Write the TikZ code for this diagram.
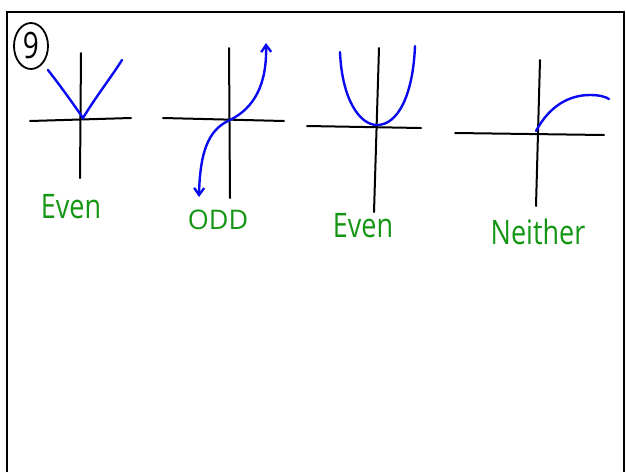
\documentclass[tikz,border=0pt]{standalone}
\usepackage{fontspec}
\setmainfont{Open Sans}
\usetikzlibrary{arrows.meta}
\definecolor{penblue}{RGB}{10,10,240}
\definecolor{pengreen}{RGB}{20,150,20}
\newcommand{\tallbox}[1]{\scalebox{1}[1.25]{#1}}
\tikzset{
  axis/.style={black, line width=2pt, line cap=round},
  curve/.style={penblue, line width=2.4pt, line cap=round},
  lbl/.style={pengreen, font=\fontsize{27}{30}\selectfont, inner sep=0pt},
  frame/.style={black, line width=2pt}
}
\begin{document}
\begin{tikzpicture}[x=1pt, y=-1pt]
\useasboundingbox (0,0) rectangle (626,472);
% frame
\draw[frame] (7,472) -- (7,12) -- (624,12) -- (624,472);
% circled 9
\draw[black, line width=1.8pt] (31,46) ellipse [x radius=17, y radius=23];
\node[font=\fontsize{28}{32}\selectfont, inner sep=0pt] (nine) at (31,45) {\scalebox{1}[1.3]{9}};
% graph 1
\draw[axis] (30,121) -- (131,118);
\draw[axis] (81,53) -- (80,178);
\draw[curve] (48,70) .. controls (62,88) and (74,105) .. (83,118) .. controls (95,98) and (112,76) .. (122,60);
\node[lbl] (even1) at (71,207) {\tallbox{Even}};
% graph 2
\draw[axis] (163,118) -- (284,121);
\draw[axis] (229,48) -- (230,198);
\draw[curve, {Straight Barb[length=7pt,width=10pt]}-{Straight Barb[length=7pt,width=10pt]}] (199,197) .. controls (200,145) and (212,128) .. (230,120) .. controls (254,108) and (267,85) .. (266,43);
\node[lbl] (odd) at (218,220) {ODD};
% graph 3
\draw[axis] (307,126) -- (421,128);
\draw[axis] (379,48) -- (374,212);
\draw[curve] (340,52) .. controls (342,100) and (360,125) .. (377,125) .. controls (398,125) and (413,95) .. (415,46);
\node[lbl] (even2) at (363,226) {\tallbox{Even}};
% graph 4
\draw[axis] (455,133) -- (604,135);
\draw[axis] (540,60) -- (536,206);
\draw[curve] (536,131) .. controls (550,105) and (570,95) .. (590,95) .. controls (600,95) and (606,97) .. (609,99);
\node[lbl] (neither) at (538,232) {\tallbox{Neither}};
\end{tikzpicture}
\end{document}
